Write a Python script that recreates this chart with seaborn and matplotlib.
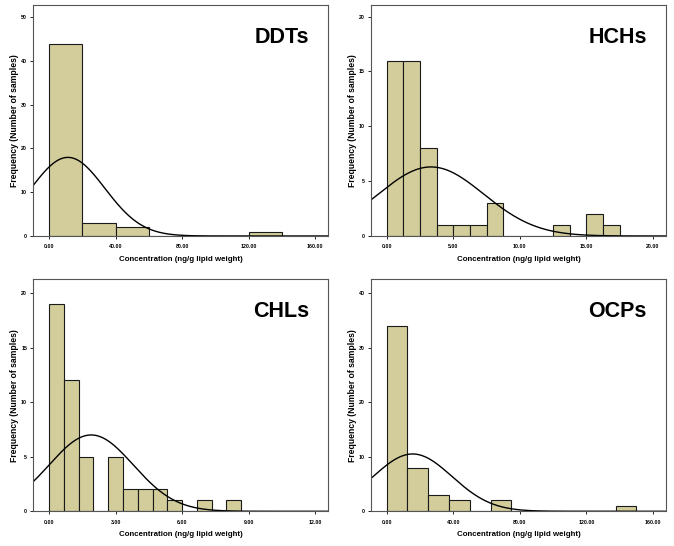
import matplotlib
matplotlib.use("Agg")

import numpy as np
import pandas as pd
import matplotlib.pyplot as plt
import seaborn as sns

# -------------------------------
# Data (bin counts per panel)
# -------------------------------

ddt_edges = [0, 20, 40, 60, 80, 100, 120, 140]
ddt_counts = [44, 3, 2, 0, 0, 0, 1]

hch_edges = [0, 1.25, 2.5, 3.75, 5, 6.25, 7.5, 8.75, 10, 11.25, 12.5, 13.75, 15, 16.25, 17.5]
hch_counts = [16, 16, 8, 1, 1, 1, 3, 0, 0, 0, 1, 0, 2, 1]

chl_edges = [0, 2/3, 4/3, 2, 8/3, 10/3, 4, 14/3, 16/3, 6, 20/3, 22/3, 8, 26/3]
chl_counts = [19, 12, 5, 0, 5, 2, 2, 2, 1, 0, 1, 0, 1]

ocp_edges = [0, 12.5, 25, 37.5, 50, 62.5, 75, 87.5, 100, 112.5, 125, 137.5, 150]
ocp_counts = [34, 8, 3, 2, 0, 2, 0, 0, 0, 0, 0, 1]

# fitted normal curves (mean, sd)
ddt_fit = (11.4, 22.2)
hch_fit = (3.33, 3.96)
chl_fit = (1.9, 1.9)
ocp_fit = (15.6, 23.7)

names = ["DDTs", "HCHs", "CHLs", "OCPs"]
x_ticks = [[0, 40, 80, 120, 160], [0, 5, 10, 15, 20], [0, 3, 6, 9, 12], [0, 40, 80, 120, 160]]
y_ticks = [[0, 10, 20, 30, 40, 50], [0, 5, 10, 15, 20], [0, 5, 10, 15, 20], [0, 10, 20, 30, 40]]
x_lims = [(-9.4, 167.8), (-1.18, 20.98), (-0.71, 12.59), (-9.4, 167.8)]
y_lims = [(0, 52.8), (0, 21.06), (0, 21.28), (0, 42.6)]

panels = [
    (ddt_edges, ddt_counts, ddt_fit),
    (hch_edges, hch_counts, hch_fit),
    (chl_edges, chl_counts, chl_fit),
    (ocp_edges, ocp_counts, ocp_fit),
]

sns.set_style("white")
plt.rcParams["font.family"] = ["Liberation Sans", "DejaVu Sans"]
plt.rcParams["text.color"] = "black"
plt.rcParams["axes.labelcolor"] = "black"

fig = plt.figure(figsize=(6.74, 5.46), dpi=100)

positions = [
    [0.0494, 0.5678, 0.4377, 0.423],
    [0.5504, 0.5678, 0.4377, 0.423],
    [0.0494, 0.0636, 0.4377, 0.425],
    [0.5504, 0.0636, 0.4377, 0.425],
]

bar_color = "#D3CD9B"

for i, (edges, counts, fit) in enumerate(panels):

    ax = fig.add_axes(positions[i])

    centers = [(a + b) / 2 for a, b in zip(edges[:-1], edges[1:])]
    df = pd.DataFrame({"value": centers, "count": counts})

    sns.histplot(
        data=df,
        x="value",
        weights="count",
        bins=list(edges),
        color=bar_color,
        alpha=1,
        edgecolor="#1a1a1a",
        linewidth=0.8,
        ax=ax
    )

    # normal curve scaled to counts
    n = sum(counts)
    width = edges[1] - edges[0]
    mu, sd = fit
    xs = np.linspace(x_lims[i][0], x_lims[i][1], 400)
    ys = n * width * np.exp(-(xs - mu) ** 2 / (2 * sd ** 2)) / (sd * np.sqrt(2 * np.pi))
    ax.plot(xs, ys, color="black", linewidth=1.0)

    ax.set_xlim(x_lims[i])
    ax.set_ylim(y_lims[i])
    ax.set_xticks(x_ticks[i])
    ax.set_xticklabels([f"{t:.2f}" for t in x_ticks[i]], fontsize=3.8, fontweight="bold")
    ax.set_yticks(y_ticks[i])
    ax.set_yticklabels([str(t) for t in y_ticks[i]], fontsize=3.8, fontweight="bold")
    ax.tick_params(axis="both", direction="out", length=2.5, width=0.6, pad=3.5,
                   bottom=True, left=True, colors="black")
    ax.tick_params(axis="y", pad=2)

    for spine in ax.spines.values():
        spine.set_visible(True)
        spine.set_color("#555555")
        spine.set_linewidth(0.8)

    ax.set_xlabel("Concentration (ng/g lipid weight)", fontsize=5.7, fontweight="bold", labelpad=4.5)
    ax.set_ylabel("Frequency (Number of samples)", fontsize=6.2, fontweight="bold", labelpad=1.5)

    ax.text(0.935, 0.86, names[i], transform=ax.transAxes, ha="right", va="center",
            fontsize=15.5, fontweight="bold", color="black")

fig.savefig("out.png", dpi=100)
plt.close(fig)
